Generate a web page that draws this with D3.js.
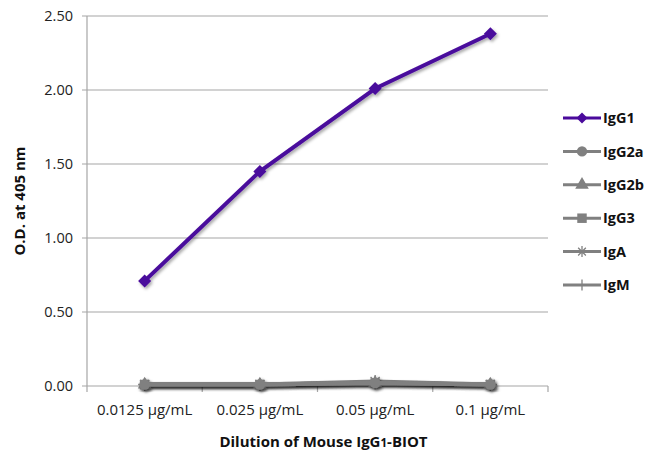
<!DOCTYPE html>
<html><head><meta charset="utf-8">
<script src="https://cdn.jsdelivr.net/npm/d3@7"></script>
<style>body{margin:0;background:#fff;}svg{display:block;font-family:"Open Sans","Lato",sans-serif;}</style>
</head><body>
<svg id="c" width="653" height="457"></svg>
<script>
const categories = ["0.0125 µg/mL","0.025 µg/mL","0.05 µg/mL","0.1 µg/mL"];
const seriesNames = ["IgG1","IgG2a","IgG2b","IgG3","IgA","IgM"];
const IgG1 = [0.71,1.45,2.01,2.38];
const IgG2a = [0.01,0.01,0.02,0.01];
const IgG2b = [0.01,0.01,0.02,0.01];
const IgG3 = [0.01,0.01,0.02,0.01];
const IgA = [0.01,0.01,0.03,0.01];
const IgM = [0.01,0.01,0.02,0.01];
const yTicks = [0,0.5,1,1.5,2,2.5];

const seriesData = [IgG1,IgG2a,IgG2b,IgG3,IgA,IgM];
const colors = ["#4a0a9c","#808080","#808080","#808080","#808080","#808080"];
const symbols = ["diamond","circle","triangle","square","asterisk","plus"];

const svg = d3.select("#c");
const m = {l:87, r:105, t:16, b:71};
const W = 653, H = 457;
const x = d3.scaleBand().domain(categories).range([m.l, W-m.r]).padding(0);
const y = d3.scaleLinear().domain([0,2.5]).range([H-m.b, m.t]);

const defs = svg.append("defs");
const f = defs.append("filter").attr("id","sh").attr("x","-20%").attr("y","-20%").attr("width","140%").attr("height","140%");
f.append("feDropShadow").attr("dx",1.5).attr("dy",2).attr("stdDeviation",1.5).attr("flood-color","#000").attr("flood-opacity",0.35);

// gridlines
svg.append("g").selectAll("line").data(yTicks).join("line")
  .attr("x1", m.l-5).attr("x2", W-m.r).attr("y1", d=>y(d)).attr("y2", d=>y(d))
  .attr("stroke","#a6a6a6").attr("stroke-width",1.2);

// y axis line
svg.append("line").attr("x1",m.l).attr("x2",m.l).attr("y1",y(2.5)).attr("y2",y(0)).attr("stroke","#a6a6a6").attr("stroke-width",1.2);

// y tick labels
svg.append("g").selectAll("text").data(yTicks).join("text")
  .attr("x", m.l-14).attr("y", d=>y(d)).attr("dy","0.35em").attr("text-anchor","end")
  .attr("font-size",14.5).attr("fill","#222").text(d=>d3.format(".2f")(d));

// x axis ticks
const bounds = categories.map(c=>x(c)).concat([x(categories[categories.length-1])+x.bandwidth()]);
svg.append("g").selectAll("line").data(bounds).join("line")
  .attr("x1",d=>d).attr("x2",d=>d).attr("y1",y(0)).attr("y2",y(0)+6)
  .attr("stroke","#a6a6a6").attr("stroke-width",1.2);
svg.append("g").selectAll("text").data(categories).join("text")
  .attr("x", d=>x(d)+x.bandwidth()/2).attr("y", y(0)+29).attr("text-anchor","middle")
  .attr("font-size",15).attr("fill","#222").text(d=>d);

// axis titles
const xt = svg.append("text").attr("x",(m.l+W-m.r)/2+6).attr("y",447).attr("text-anchor","middle")
  .attr("font-size",15).attr("font-weight","bold").attr("fill","#111");
xt.append("tspan").text("Dilution of Mouse IgG");
xt.append("tspan").attr("font-size",11.5).text("1");
xt.append("tspan").text("-BIOT");
svg.append("text").attr("transform","translate(25,"+((m.t+H-m.b)/2)+") rotate(-90)")
  .attr("text-anchor","middle").attr("font-size",15).attr("font-weight","bold").attr("fill","#111")
  .text("O.D. at 405 nm");

const symMap = {circle:d3.symbolCircle,triangle:d3.symbolTriangle,square:d3.symbolSquare};
function drawMarker(g, type, color, size){
  const s=size;
  if(type==="asterisk"){
    g.append("path").attr("d",`M${-s},0L${s},0M${-s*0.7},${-s*0.7}L${s*0.7},${s*0.7}M${-s*0.7},${s*0.7}L${s*0.7},${-s*0.7}M0,${-s}L0,${s}`)
      .attr("stroke",color).attr("stroke-width",1.3).attr("fill","none");
  } else if(type==="plus"){
    g.append("path").attr("d",`M0,${-s}L0,${s}`).attr("stroke",color).attr("stroke-width",1.3);
  } else if(type==="diamond"){
    g.append("path").attr("d",`M0,${-s}L${s},0L0,${s}L${-s},0Z`).attr("fill",color);
  } else {
    const area = type==="triangle"?80:type==="square"?90:85;
    g.append("path").attr("d",d3.symbol().type(symMap[type]).size(area)()).attr("fill",color);
  }
}

// series (draw gray first, purple on top)
const order = [5,4,3,2,1,0];
const line = d3.line().x((d,i)=>x(categories[i])+x.bandwidth()/2).y(d=>y(d));
order.forEach(k=>{
  const g = svg.append("g").attr("filter","url(#sh)");
  g.append("path").datum(seriesData[k]).attr("d",line).attr("fill","none")
    .attr("stroke",colors[k]).attr("stroke-width",4).attr("stroke-linejoin","round");
  seriesData[k].forEach((v,i)=>{
    const mg = g.append("g").attr("transform",`translate(${x(categories[i])+x.bandwidth()/2},${y(v)})`);
    drawMarker(mg, symbols[k], colors[k], 6.5);
  });
});

// legend
const lg = svg.append("g");
seriesNames.forEach((n,k)=>{
  const yy = 118 + k*33.4;
  lg.append("line").attr("x1",563).attr("x2",601).attr("y1",yy).attr("y2",yy).attr("stroke",colors[k]).attr("stroke-width",3);
  const mg = lg.append("g").attr("transform",`translate(582,${yy})`);
  drawMarker(mg, symbols[k], colors[k], 5.5);
  lg.append("text").attr("x",603).attr("y",yy).attr("dy","0.36em").attr("font-size",14.5).attr("font-weight","bold").attr("fill","#111").text(n);
});
</script>
</body></html>
